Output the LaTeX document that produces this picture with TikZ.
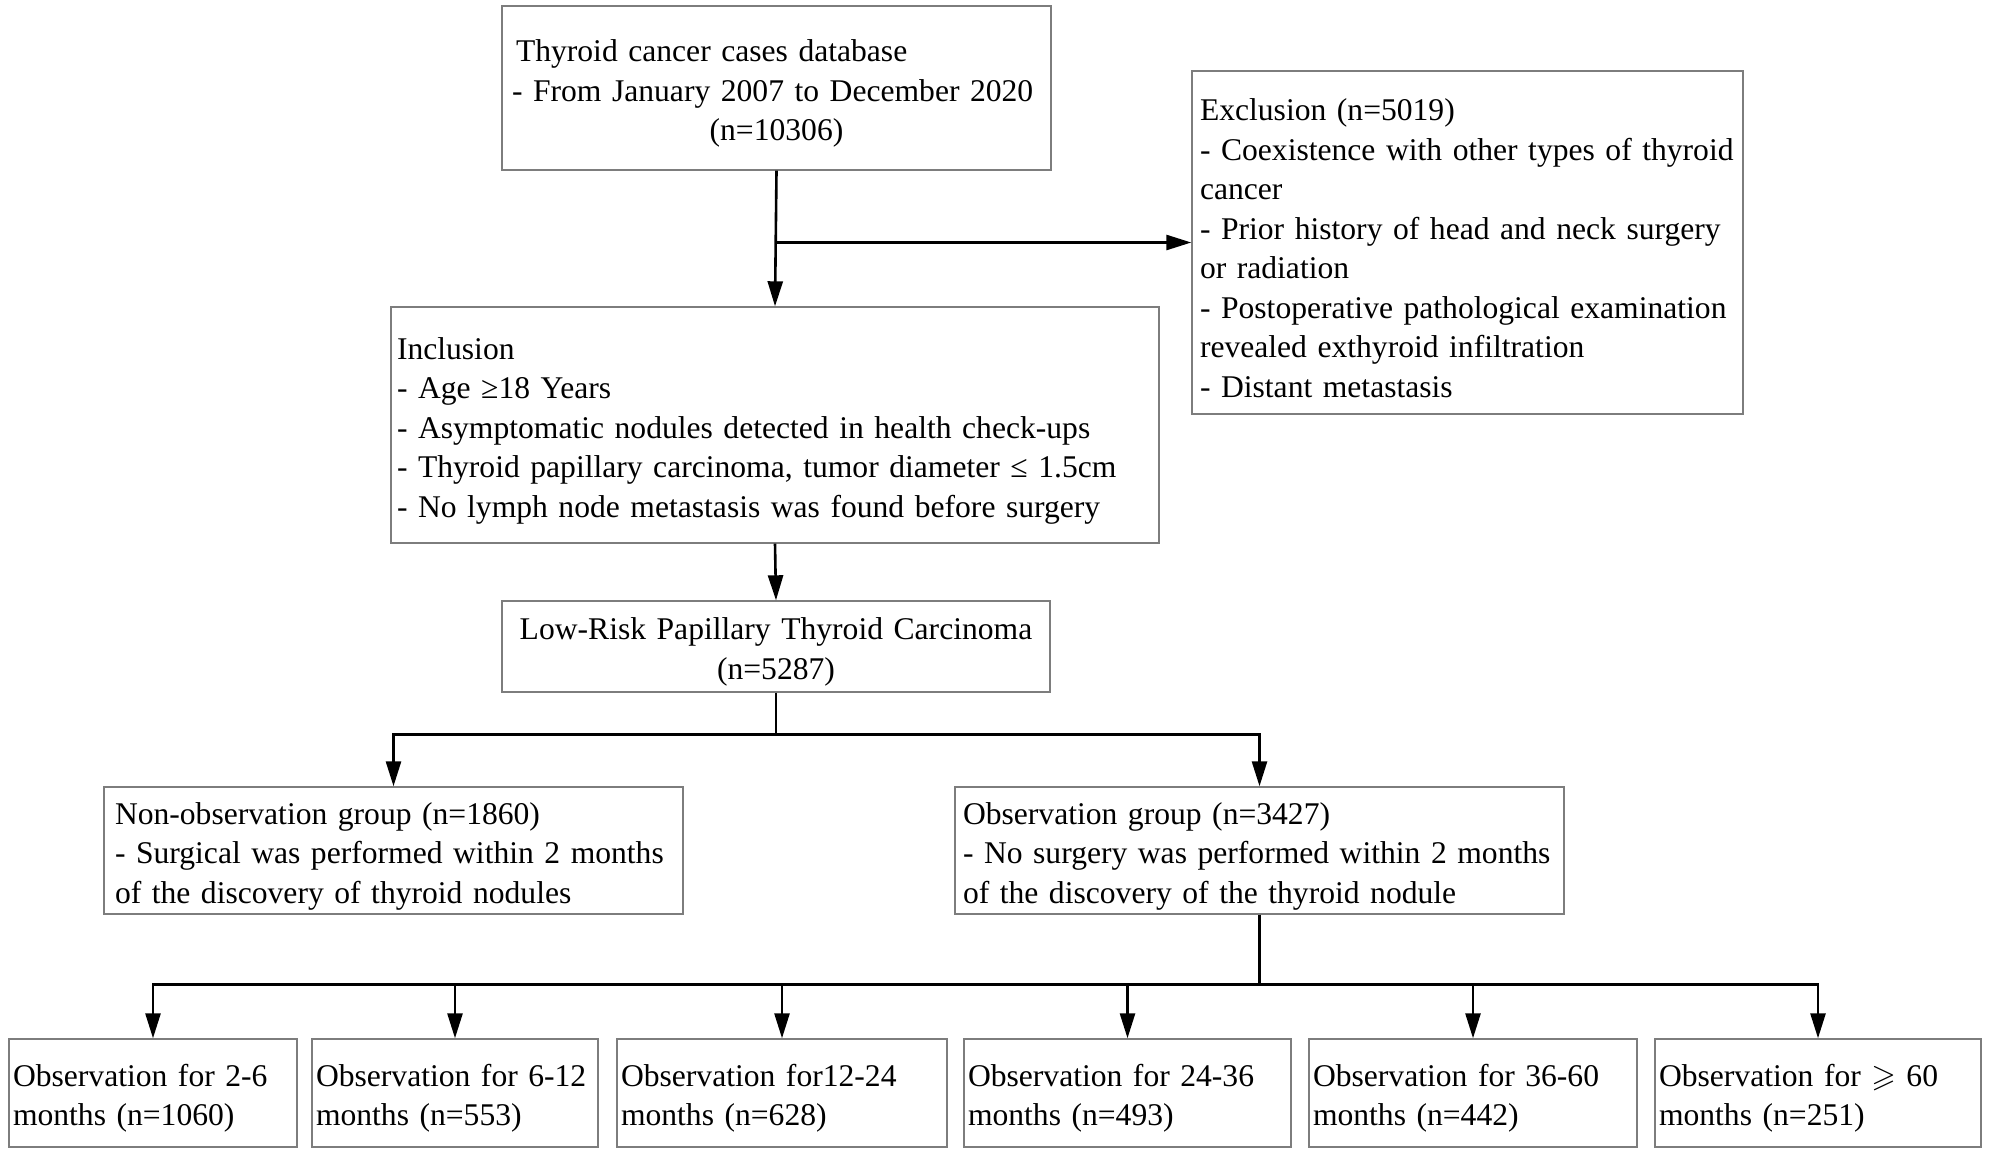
\documentclass[tikz,border=0pt]{standalone}
\usepackage{fontspec}
\setmainfont{Liberation Serif}
\usepackage{amssymb}
\usetikzlibrary{arrows.meta,calc}
\definecolor{boxgray}{RGB}{125,125,125}
\newcommand{\rl}[1]{\mbox{#1}}
\begin{document}
\begin{tikzpicture}[x=1pt,y=-1pt,
  every node/.style={font=\fontsize{31.6}{39.5}\selectfont},
  box/.style={draw=boxgray, line width=1.4pt, rectangle, inner ysep=0pt, align=left,
    execute at begin node={\rule{0pt}{33pt}}},
  cbox/.style={draw=boxgray, line width=1.4pt, rectangle, inner ysep=0pt, align=center,
    execute at begin node={\rule{0pt}{33pt}}},
  conn/.style={line width=2.6pt, draw=black},
  arr/.style={conn, -{Triangle[length=25pt,width=15pt]}}]
\useasboundingbox (0,0) rectangle (1991,1154);
\fill[white] (0,0) rectangle (1991,1154);

\node[box, text width=529pt, inner xsep=10pt, minimum height=164pt] (top) at (776.5,88)
  {\rl{\hspace*{4pt}Thyroid cancer cases database}\\
   \rl{- From January 2007 to December 2020}\\
   \makebox[\linewidth][c]{(n=10306)}};

\node[box, text width=535pt, inner xsep=8pt, minimum height=343pt] (excl) at (1467.5,242.5)
  {\rl{Exclusion (n=5019)}\\
   \rl{- Coexistence with other types of thyroid}\\
   \rl{cancer}\\
   \rl{- Prior history of head and neck surgery}\\
   \rl{or radiation}\\
   \rl{- Postoperative pathological examination}\\
   \rl{revealed exthyroid infiltration}\\
   \rl{- Distant metastasis}};

\node[box, text width=756pt, inner xsep=6pt, minimum height=236pt] (incl) at (775,425)
  {\rl{Inclusion}\\
   \rl{- Age ≥18 Years}\\
   \rl{- Asymptomatic nodules detected in health check-ups}\\
   \rl{- Thyroid papillary carcinoma, tumor diameter ≤ 1.5cm}\\
   \rl{- No lymph node metastasis was found before surgery}};

\node[cbox, text width=540pt, inner xsep=4pt, minimum height=91pt] (low) at (776,646.5)
  {Low-Risk Papillary Thyroid Carcinoma\\(n=5287)};

\node[box, text width=557pt, inner xsep=11pt, minimum height=127pt] (nonobs) at (393.5,850.5)
  {\rl{Non-observation group (n=1860)}\\
   \rl{- Surgical was performed within 2 months}\\
   \rl{of the discovery of thyroid nodules}};

\node[box, text width=593pt, inner xsep=8pt, minimum height=127pt] (obs) at (1259.5,850.5)
  {\rl{Observation group (n=3427)}\\
   \rl{- No surgery was performed within 2 months}\\
   \rl{of the discovery of the thyroid nodule}};

\node[box, text width=280pt, inner xsep=4pt, minimum height=108pt] (b1) at (153,1093)
  {\rl{Observation for 2-6}\\\rl{months (n=1060)}};
\node[box, text width=278pt, inner xsep=4pt, minimum height=108pt] (b2) at (455,1093)
  {\rl{Observation for 6-12}\\\rl{months (n=553)}};
\node[box, text width=322pt, inner xsep=4pt, minimum height=108pt] (b3) at (782,1093)
  {\rl{Observation for12-24}\\\rl{months (n=628)}};
\node[box, text width=319pt, inner xsep=4pt, minimum height=108pt] (b4) at (1127.5,1093)
  {\rl{Observation for 24-36}\\\rl{months (n=493)}};
\node[box, text width=320pt, inner xsep=4pt, minimum height=108pt] (b5) at (1473,1093)
  {\rl{Observation for 36-60}\\\rl{months (n=442)}};
\node[box, text width=318pt, inner xsep=4pt, minimum height=108pt] (b6) at (1818,1093)
  {\rl{Observation for $\geqslant$ 60}\\\rl{months (n=251)}};

\draw[arr] (top.south) -- (incl.north);
\coordinate (j1) at (top.south |- excl.west);
\draw[arr] (j1) -- (excl.west);
\draw[arr] (incl.south) -- (low.north);
\coordinate (j2) at ($(low.south)+(0,42)$);
\draw[conn] (low.south) -- (j2);
\draw[arr] (j2) -| (nonobs.north);
\draw[arr] (j2) -| (obs.north);
\coordinate (j3) at ($(obs.south)+(0,70)$);
\draw[conn] (obs.south) -- (j3);
\foreach \b in {b1,b2,b3,b4,b5,b6}{\draw[arr] (j3) -| (\b.north);}
\end{tikzpicture}
\end{document}
